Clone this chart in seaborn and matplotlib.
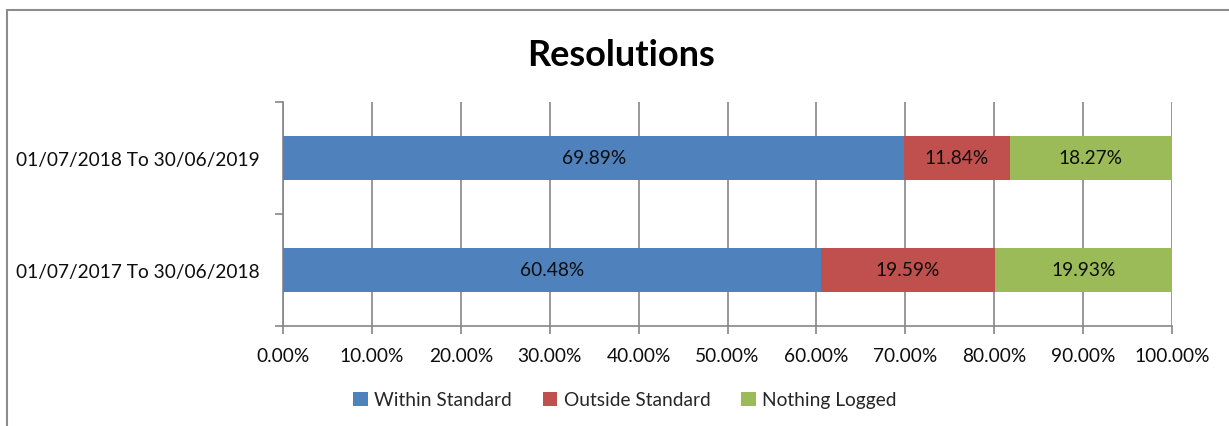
import pandas as pd
import numpy as np
import seaborn as sns
import matplotlib.pyplot as plt
import matplotlib.ticker as ticker
from matplotlib.patches import Rectangle, Patch

# data (percent)
periods = ['01/07/2018 To 30/06/2019', '01/07/2017 To 30/06/2018']
within = [69.89, 60.48]
outside = [11.84, 19.59]
nothing = [18.27, 19.93]
series = ['Within Standard', 'Outside Standard', 'Nothing Logged']
colors = ['#4F81BD', '#C0504D', '#9BBB59']

df = pd.DataFrame({'period': periods, 'within': within, 'outside': outside, 'nothing': nothing})
df['cum_outside'] = df['within'] + df['outside']
df['cum_nothing'] = df['cum_outside'] + df['nothing']

sns.set_style('white')
plt.rcParams['font.family'] = ['Lato', 'DejaVu Sans']

fs = 13.8
fig = plt.figure(figsize=(12.29, 4.27), dpi=100)
ax = fig.add_axes([283 / 1229, 1 - 327 / 427, (1172 - 283) / 1229, (327 - 103) / 427])

# stacked bars: draw cumulative totals back to front
for col, c in zip(['cum_nothing', 'cum_outside', 'within'], colors[::-1]):
    sns.barplot(data=df, x=col, y='period', color=c, width=0.4, saturation=1,
                edgecolor='none', ax=ax, zorder=3)

# segment labels
for i, row in df.iterrows():
    starts = [0, row['within'], row['cum_outside']]
    for s, v in zip(starts, [row['within'], row['outside'], row['nothing']]):
        ax.text(s + v / 2, i, f'{v:.2f}%', ha='center', va='center', fontsize=fs,
                color='#0d0d0d', zorder=4)

ax.set_xlim(0, 100)
ax.set_ylim(1.5, -0.5)
ax.xaxis.set_major_locator(ticker.MultipleLocator(10))
ax.xaxis.set_major_formatter(ticker.FuncFormatter(lambda v, p: f'{v:.2f}%'))
ax.grid(axis='x', color='#868686', linewidth=1.2, zorder=0)
ax.set_axisbelow(True)
ax.set_xlabel('')
ax.set_ylabel('')

# category boundary ticks like Excel
ax.set_yticks([-0.5, 0.5, 1.5], minor=True)
ax.tick_params(axis='y', which='major', length=0, pad=17, labelsize=fs, labelcolor='#0d0d0d')
ax.tick_params(axis='y', which='minor', length=6, width=1.2, color='#868686', direction='out', left=True)
ax.tick_params(axis='x', which='major', length=6, width=1.2, color='#868686', direction='out',
               bottom=True, labelsize=fs, labelcolor='#0d0d0d', pad=9)

sns.despine(ax=ax, top=True, right=True)
for side in ['left', 'bottom']:
    ax.spines[side].set_color('#868686')
    ax.spines[side].set_linewidth(1.2)

fig.text(621 / 1229, 1 - 56 / 427, 'Resolutions', ha='center', va='center',
         fontsize=26, fontweight='bold', color='#000000')

handles = [Patch(facecolor=c, edgecolor='none', label=s) for s, c in zip(series, colors)]
fig.legend(handles=handles, loc='center', bbox_to_anchor=(625 / 1229, 1 - 401 / 427), ncol=3,
           frameon=False, fontsize=fs, handlelength=0.75, handleheight=0.75, handletextpad=0.35,
           columnspacing=1.6)

# chart area frame (clipped at right and bottom in the reference)
fig.patches.append(Rectangle((7 / 1229, -0.05), 1.1, 1 - 11 / 427 + 0.05, transform=fig.transFigure,
                             fill=False, edgecolor='#8c8c8c', linewidth=1.5))

fig.savefig('out.png', dpi=100)
